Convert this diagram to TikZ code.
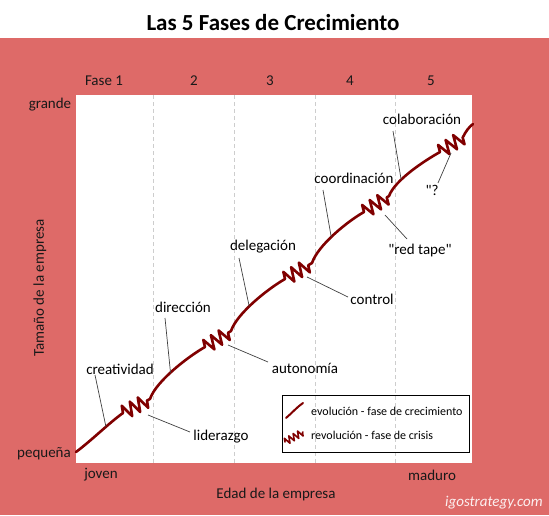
\documentclass[tikz,border=0pt]{standalone}
\usepackage{fontspec}
\setmainfont{Carlito}
\usetikzlibrary{decorations.pathmorphing,calc}
\definecolor{bgred}{RGB}{222,106,104}
\definecolor{curvecol}{RGB}{128,0,0}
\definecolor{gridcol}{RGB}{205,205,205}
\begin{document}
\begin{tikzpicture}[x=1pt,y=-1pt,
  lab/.style={font=\fontsize{15}{17}\selectfont, inner sep=0pt, text=black},
  axlab/.style={font=\fontsize{15}{17}\selectfont, inner sep=0pt, text=black!90},
  leader/.style={draw=black!75, line width=0.7pt},
  evo/.style={draw=curvecol, line width=2.6pt, line join=round, line cap=round},
  zz/.style={decorate, decoration={zigzag, segment length=9pt, amplitude=7pt}},
  gridline/.style={draw=gridcol, dash pattern=on 4pt off 3pt, line width=0.7pt},
  legtext/.style={font=\fontsize{12}{14}\selectfont, inner sep=0pt, anchor=west}]
\useasboundingbox (0,0) rectangle (549,515);
\fill[white] (0,0) rectangle (549,38);
\fill[bgred] (0,38) rectangle (549,515);
\fill[white] (76,95) rectangle (472,463);
\foreach \x in {153,234,315,395} \draw[gridline] (\x,95) -- (\x,463);

% title and axes
\node[font=\fontsize{23}{27}\selectfont\bfseries, inner sep=0pt] (title) at (273,23) {Las 5 Fases de Crecimiento};
\node[axlab] (f1) at (104,81) {Fase 1};
\node[axlab] (f2) at (194,81) {2};
\node[axlab] (f3) at (270,81) {3};
\node[axlab] (f4) at (350,81) {4};
\node[axlab] (f5) at (431,81) {5};
\node[axlab] (grande) at (50,105) {grande};
\node[axlab] (peq) at (44,454) {pequeña};
\node[axlab, rotate=90] (ylab) at (40,288) {Tamaño de la empresa};
\node[axlab] (joven) at (101,475) {joven};
\node[axlab] (maduro) at (432,475) {maduro};
\node[axlab] (xlab) at (276,494) {Edad de la empresa};
\node[font=\fontsize{15}{17}\selectfont\itshape, text=white!90!bgred, inner sep=0pt] (web) at (494,503) {igostrategy.com};

% curve points
\coordinate (P0) at (76,452);
\coordinate (A1) at (123,413); \coordinate (B1) at (150,399);
\coordinate (A2) at (205,347); \coordinate (B2) at (231,331);
\coordinate (A3) at (285,279); \coordinate (B3) at (312,263);
\coordinate (A4) at (364,212); \coordinate (B4) at (389,196);
\coordinate (A5) at (440,152); \coordinate (B5) at (463,137);
\coordinate (E) at (473,124);

\draw[evo] (P0) .. controls +(16,-12) and +(-14,10) .. (A1) coordinate[pos=0.62] (e1)
  decorate[zz]{-- (B1)}
  .. controls +(6,-18) and +(-16,9) .. (A2) coordinate[pos=0.45] (e2)
  decorate[zz]{-- (B2)}
  .. controls +(6,-18) and +(-16,9) .. (A3) coordinate[pos=0.42] (e3)
  decorate[zz]{-- (B3)}
  .. controls +(6,-18) and +(-16,9) .. (A4) coordinate[pos=0.45] (e4)
  decorate[zz]{-- (B4)}
  .. controls +(6,-16) and +(-16,9) .. (A5) coordinate[pos=0.33] (e5)
  decorate[zz]{-- (B5)}
  .. controls +(3,-6) and +(-4,3) .. (E);

% labels
\node[lab] (creat) at (120,369) {creatividad};
\node[lab] (lider) at (221,437) {liderazgo};
\node[lab] (direc) at (183,307) {dirección};
\node[lab] (auton) at (305,368) {autonomía};
\node[lab] (deleg) at (263,247) {delegación};
\node[lab] (contr) at (372,299) {control};
\node[lab] (coord) at (354,178) {coordinación};
\node[lab] (redt) at (420,250) {\textquotedbl red tape\textquotedbl};
\node[lab] (colab) at (422,119) {colaboración};
\node[lab] (quest) at (432,190) {\textquotedbl ?};

% leader start points
\coordinate (s1) at (95,375);
\coordinate (s2) at (165,318);
\coordinate (s3) at (239,258);
\coordinate (s4) at (323,190);
\coordinate (s5) at (393,131);
\coordinate (c1a) at (148,415); \coordinate (c1b) at (190,432);
\coordinate (c2a) at (228,345); \coordinate (c2b) at (268,362);
\coordinate (c3a) at (307,277); \coordinate (c3b) at (348,297);
\coordinate (c4a) at (385,215); \coordinate (c4b) at (407,239);
\coordinate (c5a) at (451,153); \coordinate (c5b) at (438,183);

\draw[leader] (s1) -- (e1);
\draw[leader] (s2) -- (e2);
\draw[leader] (s3) -- (e3);
\draw[leader] (s4) -- (e4);
\draw[leader] (s5) -- (e5);
\draw[leader] (c1a) -- (c1b);
\draw[leader] (c2a) -- (c2b);
\draw[leader] (c3a) -- (c3b);
\draw[leader] (c4a) -- (c4b);
\draw[leader] (c5a) -- (c5b);

% legend
\node[draw=black, line width=0.8pt, minimum width=187pt, minimum height=57pt, inner sep=0pt] (legend) at (375.5,423.5) {};
\coordinate (li1) at (286,418); \coordinate (li2) at (303,403);
\draw[evo, line width=2pt] (li1) .. controls +(6,-5) and +(-6,4) .. (li2);
\coordinate (lz1) at (285,442); \coordinate (lz2) at (303,432);
\draw[evo, line width=1.6pt, decorate, decoration={zigzag, segment length=5pt, amplitude=3.5pt}] (lz1) -- (lz2);
\node[legtext] (lt1) at (311,411) {evolución - fase de crecimiento};
\node[legtext] (lt2) at (311,435) {revolución - fase de crisis};
\end{tikzpicture}
\end{document}
